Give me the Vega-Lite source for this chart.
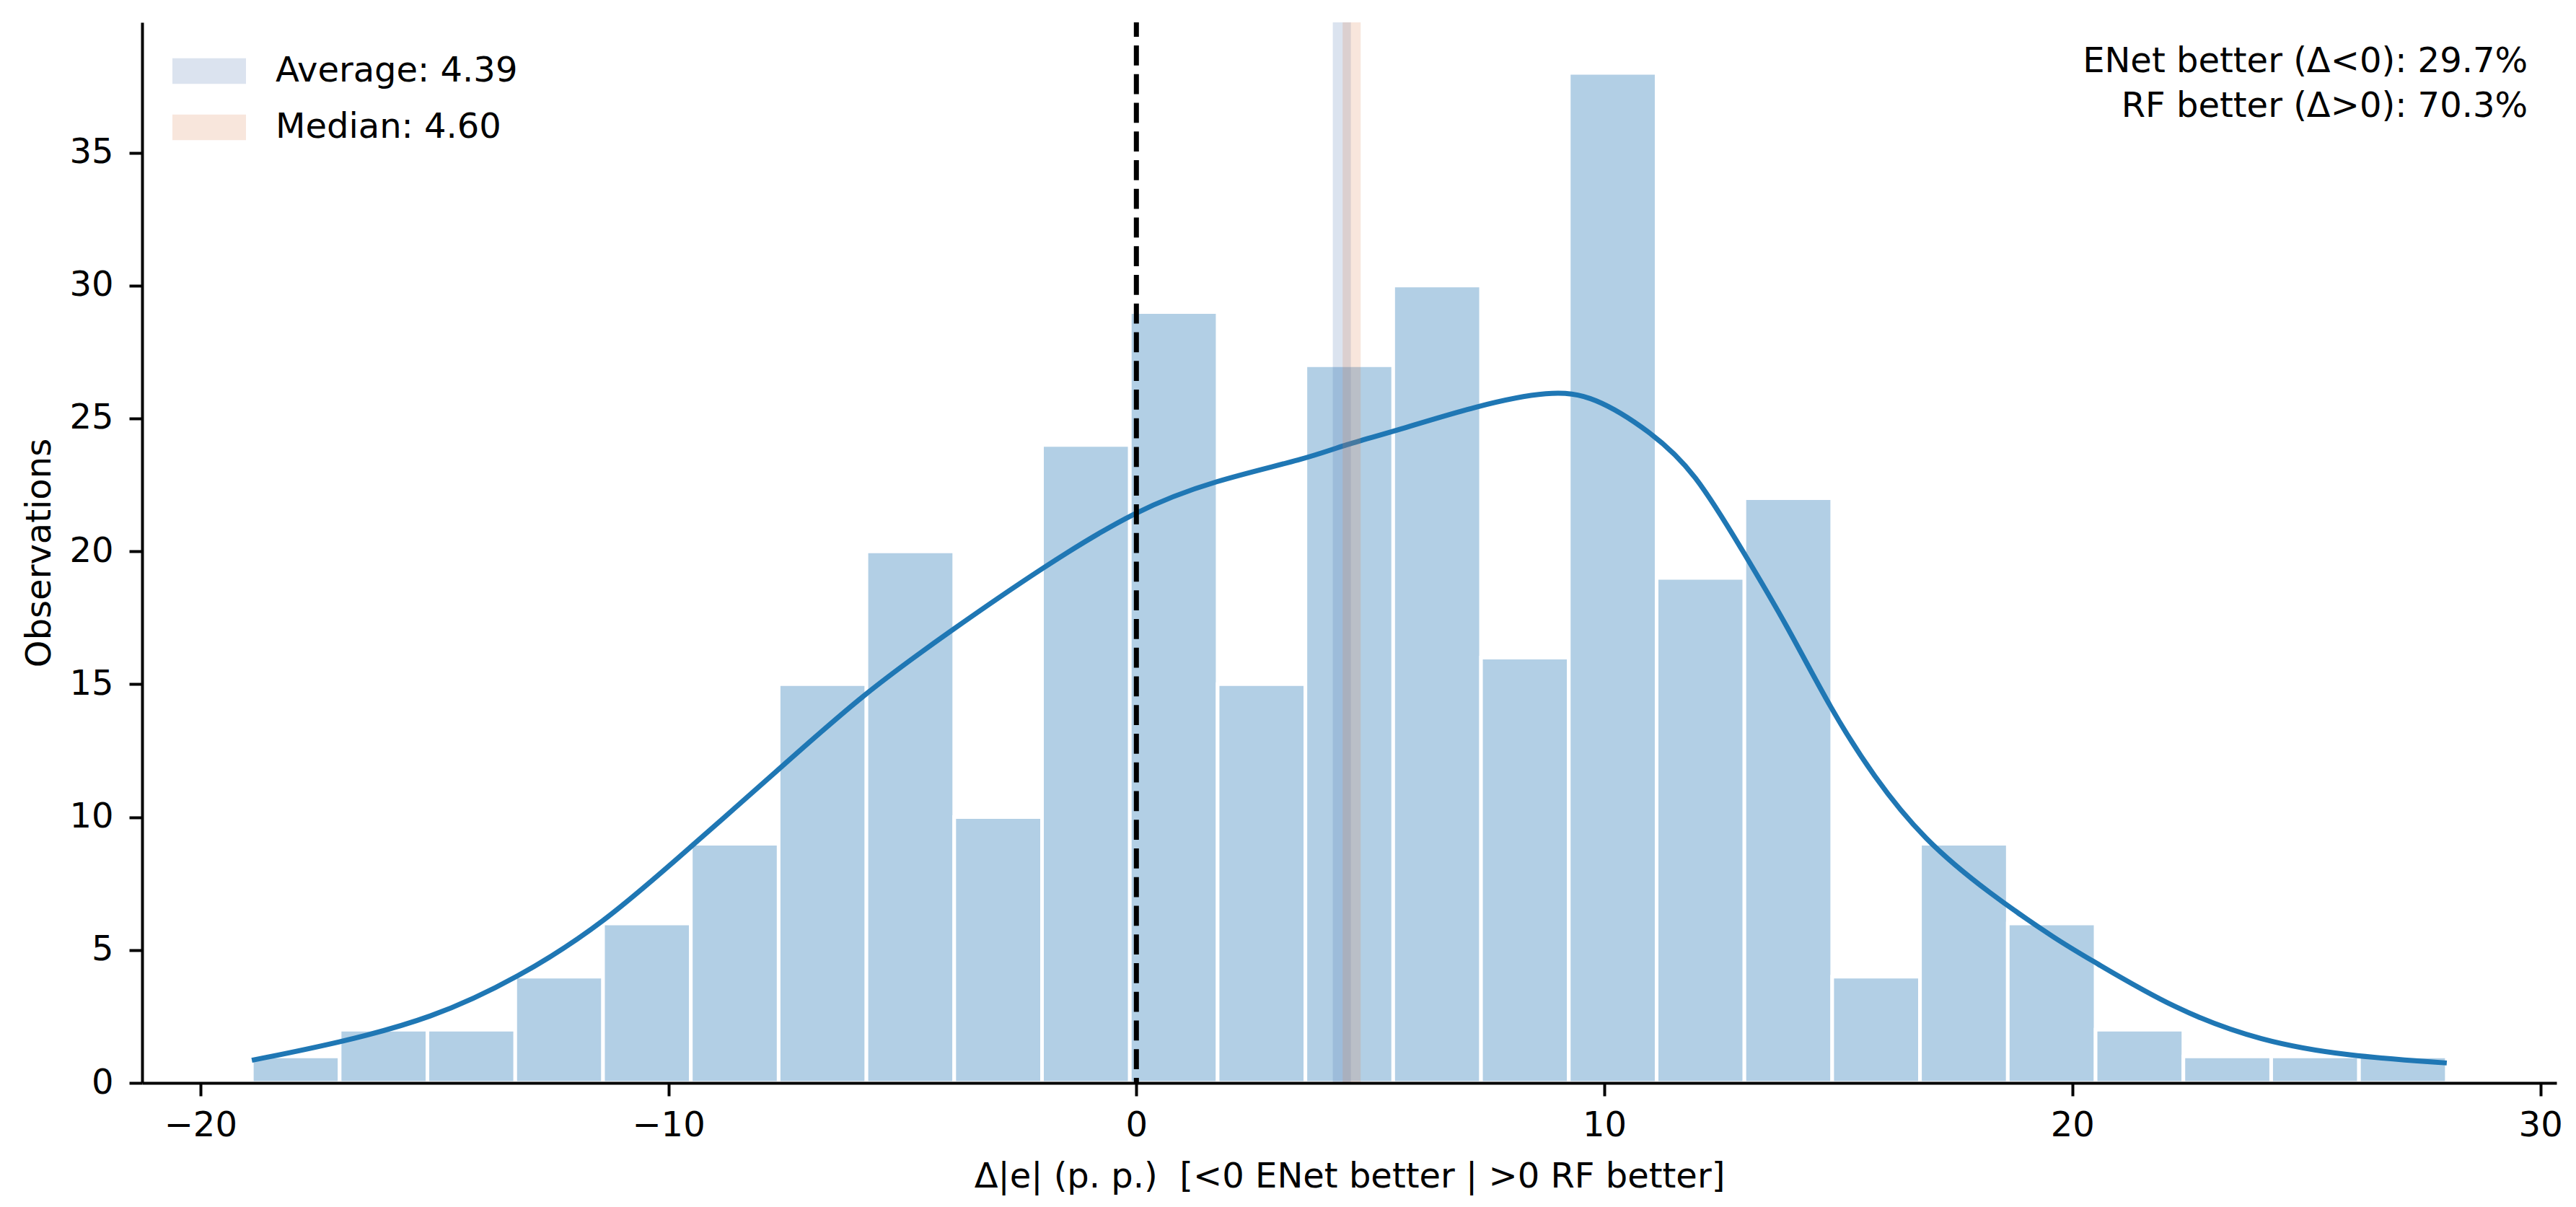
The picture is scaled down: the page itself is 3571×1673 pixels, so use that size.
{
  "$schema": "https://vega.github.io/schema/vega-lite/v6.json",
  "width": 3347,
  "height": 1470,
  "autosize": {"type": "none"},
  "padding": {"left": 197, "top": 31, "right": 27, "bottom": 172},
  "datasets": {
    "hist": [
      {"x": -18.9, "x2": -17.024, "y": 1},
      {"x": -17.024, "x2": -15.148, "y": 2},
      {"x": -15.148, "x2": -13.272, "y": 2},
      {"x": -13.272, "x2": -11.396, "y": 4},
      {"x": -11.396, "x2": -9.52, "y": 6},
      {"x": -9.52, "x2": -7.644, "y": 9},
      {"x": -7.644, "x2": -5.768, "y": 15},
      {"x": -5.768, "x2": -3.892, "y": 20},
      {"x": -3.892, "x2": -2.016, "y": 10},
      {"x": -2.016, "x2": -0.14, "y": 24},
      {"x": -0.14, "x2": 1.736, "y": 29},
      {"x": 1.736, "x2": 3.612, "y": 15},
      {"x": 3.612, "x2": 5.488, "y": 27},
      {"x": 5.488, "x2": 7.364, "y": 30},
      {"x": 7.364, "x2": 9.24, "y": 16},
      {"x": 9.24, "x2": 11.116, "y": 38},
      {"x": 11.116, "x2": 12.992, "y": 19},
      {"x": 12.992, "x2": 14.868, "y": 22},
      {"x": 14.868, "x2": 16.744, "y": 4},
      {"x": 16.744, "x2": 18.62, "y": 9},
      {"x": 18.62, "x2": 20.496, "y": 6},
      {"x": 20.496, "x2": 22.372, "y": 2},
      {"x": 22.372, "x2": 24.248, "y": 1},
      {"x": 24.248, "x2": 26.124, "y": 1},
      {"x": 26.124, "x2": 28.0, "y": 1}
    ],
    "kde": [
      {"x": -18.9, "y": 0.85},
      {"x": -17.06, "y": 1.5},
      {"x": -15.06, "y": 2.42},
      {"x": -13.22, "y": 3.94},
      {"x": -11.38, "y": 6.0},
      {"x": -9.53, "y": 8.87},
      {"x": -7.7, "y": 11.7},
      {"x": -5.85, "y": 14.62},
      {"x": -4.01, "y": 16.96},
      {"x": -2.02, "y": 19.38},
      {"x": 0, "y": 21.57},
      {"x": 1.66, "y": 22.66},
      {"x": 3.66, "y": 23.49},
      {"x": 4.4, "y": 23.98},
      {"x": 5.47, "y": 24.49},
      {"x": 7.31, "y": 25.5},
      {"x": 8.85, "y": 26.05},
      {"x": 9.77, "y": 25.86},
      {"x": 11.0, "y": 24.49},
      {"x": 11.92, "y": 23.03},
      {"x": 12.99, "y": 19.92},
      {"x": 13.91, "y": 17.19},
      {"x": 14.83, "y": 14.08},
      {"x": 15.75, "y": 11.52},
      {"x": 16.83, "y": 9.14},
      {"x": 18.21, "y": 7.14},
      {"x": 19.74, "y": 5.3},
      {"x": 20.36, "y": 4.67},
      {"x": 22.2, "y": 2.75},
      {"x": 24.04, "y": 1.56},
      {"x": 25.88, "y": 1.01},
      {"x": 28.0, "y": 0.75}
    ],
    "bands": [
      {"x": 4.39, "label": "Average: 4.39"},
      {"x": 4.60, "label": "Median: 4.60"}
    ],
    "notes": [
      {"x": 29.73, "y": 38.03, "text": "ENet better (Δ<0): 29.7%"},
      {"x": 29.73, "y": 36.35, "text": "RF better (Δ>0): 70.3%"}
    ]
  },
  "layer": [
    {
      "data": {"name": "hist"},
      "mark": {"type": "rect", "fill": "#b2cfe5", "stroke": "white", "strokeWidth": 5},
      "encoding": {
        "x": {
          "field": "x", "type": "quantitative",
          "scale": {"domain": [-21.245, 30.345], "nice": false, "zero": false},
          "axis": {
            "values": [-20, -10, 0, 10, 20, 30],
            "format": "d",
            "zindex": 2,
            "labelPadding": 17,
            "title": "Δ|e| (p. p.)\u00a0 [<0 ENet better | >0 RF better]",
            "titleX": 1673.5,
            "titleY": 144,
            "titleBaseline": "alphabetic"
          }
        },
        "x2": {"field": "x2"},
        "y": {
          "field": "y", "type": "quantitative",
          "scale": {"domain": [0, 39.9], "nice": false},
          "axis": {
            "values": [0, 5, 10, 15, 20, 25, 30, 35],
            "format": "d",
            "zindex": 2,
            "labelPadding": 22,
            "title": "Observations",
            "titleAngle": 270,
            "titleX": -128,
            "titleY": 735,
            "titleAlign": "center",
            "titleBaseline": "alphabetic"
          }
        },
        "y2": {"datum": 0}
      }
    },
    {
      "data": {"name": "kde"},
      "mark": {"type": "line", "color": "#1f77b4", "strokeWidth": 7, "interpolate": "basis"},
      "encoding": {
        "x": {"field": "x", "type": "quantitative", "scale": {"domain": [-21.245, 30.345], "nice": false, "zero": false}},
        "y": {"field": "y", "type": "quantitative", "scale": {"domain": [0, 39.9], "nice": false}}
      }
    },
    {
      "data": {"values": [{"x": 0}]},
      "mark": {"type": "rule", "color": "black", "strokeWidth": 7, "strokeDash": [27.75, 12], "strokeDashOffset": 7.75},
      "encoding": {
        "x": {"field": "x", "type": "quantitative", "scale": {"domain": [-21.245, 30.345], "nice": false, "zero": false}}
      }
    },
    {
      "data": {"name": "bands"},
      "mark": {"type": "rect", "opacity": 0.2, "xOffset": -12.5, "x2Offset": 12.5},
      "encoding": {
        "x": {"field": "x", "type": "quantitative", "scale": {"domain": [-21.245, 30.345], "nice": false, "zero": false}},
        "x2": {"field": "x"},
        "color": {
          "field": "label", "type": "nominal",
          "scale": {"domain": ["Average: 4.39", "Median: 4.60"], "range": ["#4c72b0", "#dd8452"]},
          "legend": {
            "title": null,
            "orient": "none",
            "legendX": 67.5,
            "legendY": 42,
            "padding": 0,
            "symbolType": "M-2,-0.7H2V0.7H-2Z",
            "symbolSize": 2601,
            "symbolStrokeWidth": 0,
            "symbolOpacity": 0.2,
            "labelOffset": 66.5,
            "rowPadding": 28,
            "labelFont": "DejaVu Sans",
            "labelFontSize": 48,
            "labelColor": "black",
            "labelLimit": 1000
          }
        }
      }
    },
    {
      "data": {"name": "notes"},
      "mark": {"type": "text", "align": "right", "baseline": "alphabetic", "font": "DejaVu Sans", "fontSize": 48, "color": "black"},
      "encoding": {
        "x": {"field": "x", "type": "quantitative", "scale": {"domain": [-21.245, 30.345], "nice": false, "zero": false}},
        "y": {"field": "y", "type": "quantitative", "scale": {"domain": [0, 39.9], "nice": false}},
        "text": {"field": "text"}
      }
    }
  ],
  "config": {
    "font": "DejaVu Sans",
    "view": {"stroke": null},
    "axis": {
      "grid": false,
      "zindex": 2,
      "domainColor": "black",
      "domainWidth": 4,
      "tickColor": "black",
      "tickWidth": 4,
      "tickSize": 18,
      "labelFont": "DejaVu Sans",
      "labelFontSize": 48,
      "labelColor": "black",
      "titleFont": "DejaVu Sans",
      "titleFontSize": 48,
      "titleFontWeight": "normal",
      "titleColor": "black"
    }
  }
}
